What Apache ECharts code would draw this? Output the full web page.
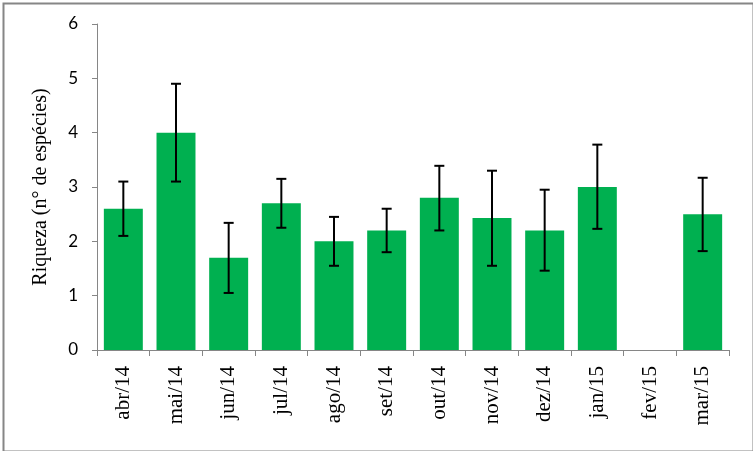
<!DOCTYPE html>
<html>
<head>
<meta charset="utf-8">
<script src="https://cdn.jsdelivr.net/npm/echarts@6/dist/echarts.min.js"></script>
<style>
html,body{margin:0;padding:0;background:#fff;}
#c{width:753px;height:451px;}
</style>
</head>
<body>
<div id="c"></div>
<script>
const categories = ['abr/14','mai/14','jun/14','jul/14','ago/14','set/14','out/14','nov/14','dez/14','jan/15','fev/15','mar/15'];
const values = [2.6, 4.0, 1.7, 2.7, 2.0, 2.2, 2.8, 2.43, 2.2, 3.0, null, 2.5];
const errLow = [2.1, 3.1, 1.05, 2.25, 1.55, 1.8, 2.2, 1.55, 1.46, 2.23, null, 1.82];
const errHigh = [3.1, 4.9, 2.34, 3.15, 2.45, 2.6, 3.39, 3.3, 2.95, 3.78, null, 3.17];
const yTicks = [0, 1, 2, 3, 4, 5, 6];

const errData = categories.map((c, i) => errLow[i] == null ? null : [i, errLow[i], errHigh[i]]).filter(d => d);

const chart = echarts.init(document.getElementById('c'));
chart.setOption({
  animation: false,
  graphic: [{
    type: 'rect', left: 1, top: 1, silent: true,
    shape: {width: 750, height: 448},
    style: {fill: 'none', stroke: '#868686', lineWidth: 2}
  }],
  grid: {left: 97, right: 24, top: 24, bottom: 101},
  xAxis: {
    type: 'category',
    data: categories,
    axisLine: {lineStyle: {color: '#868686', width: 1}},
    axisTick: {show: true, alignWithLabel: false, length: 6, lineStyle: {color: '#868686'}},
    axisLabel: {rotate: 90, fontFamily: 'Liberation Serif', fontSize: 21, color: '#000', margin: 16}
  },
  yAxis: {
    type: 'value',
    min: yTicks[0], max: yTicks[yTicks.length - 1], interval: 1,
    name: 'Riqueza (n° de espécies)',
    nameLocation: 'middle', nameGap: 46,
    nameTextStyle: {fontFamily: 'Liberation Serif', fontSize: 20, color: '#000'},
    axisLine: {show: true, lineStyle: {color: '#868686', width: 1}},
    axisTick: {show: true, length: 5, lineStyle: {color: '#868686'}},
    axisLabel: {fontFamily: 'Lato', fontSize: 17, color: '#000', margin: 19},
    splitLine: {show: false}
  },
  series: [{
    type: 'bar',
    data: values.map(v => v == null ? '-' : v),
    barCategoryGap: '26%',
    itemStyle: {color: '#00B050'}
  }, {
    type: 'custom',
    data: errData,
    z: 10,
    renderItem: function (params, api) {
      const x = api.value(0);
      const lo = api.coord([x, api.value(1)]);
      const hi = api.coord([x, api.value(2)]);
      const hw = 5;
      const st = {stroke: '#000', lineWidth: 2};
      return {
        type: 'group',
        children: [
          {type: 'line', shape: {x1: lo[0], y1: lo[1], x2: hi[0], y2: hi[1]}, style: st},
          {type: 'line', shape: {x1: lo[0] - hw, y1: lo[1], x2: lo[0] + hw, y2: lo[1]}, style: st},
          {type: 'line', shape: {x1: hi[0] - hw, y1: hi[1], x2: hi[0] + hw, y2: hi[1]}, style: st}
        ]
      };
    }
  }]
});
</script>
</body>
</html>
